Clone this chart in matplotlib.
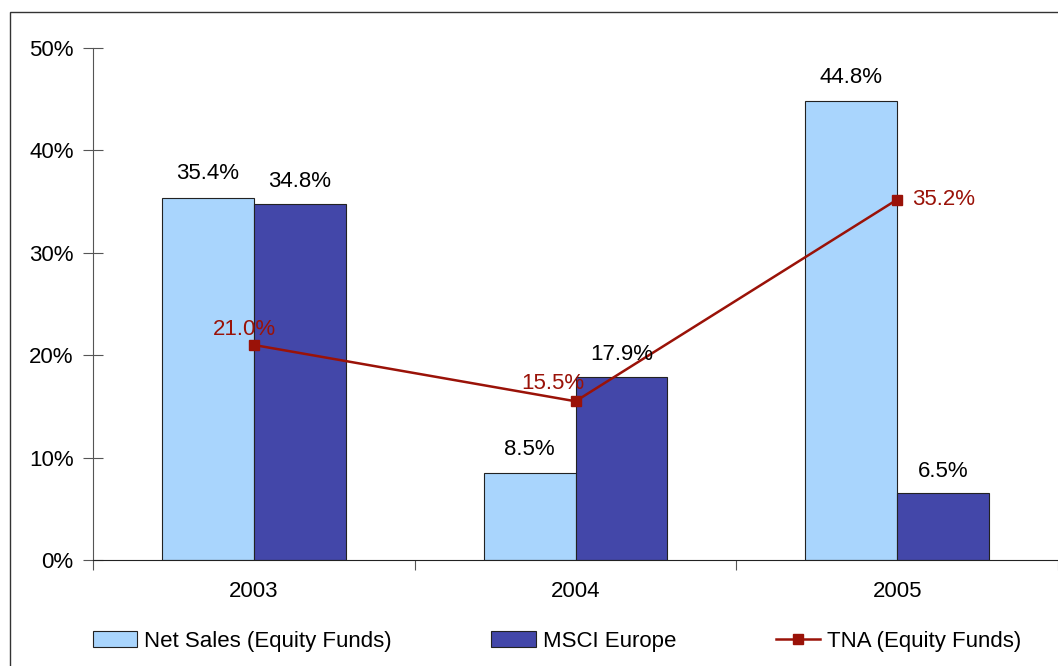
import numpy as np
import matplotlib.pyplot as plt
from matplotlib.patches import Rectangle
from matplotlib.lines import Line2D

plt.rcParams['font.family'] = ['Liberation Sans', 'DejaVu Sans']

years = ['2003', '2004', '2005']
net_sales = [35.4, 8.5, 44.8]
msci = [34.8, 17.9, 6.5]
tna = [21.0, 15.5, 35.2]

light = '#A9D5FD'
dark = '#4347A9'
red = '#9A1208'
fs = 16

fig = plt.figure(figsize=(10.58, 6.66), dpi=100)
ax = fig.add_axes([93 / 1058, 1 - 560 / 666, 1 - 93 / 1058, (560 - 48) / 666])

x = np.arange(len(years)) + 0.5
w = 0.286
ax.bar(x - w / 2, net_sales, w, color=light, edgecolor='#222222', linewidth=0.8, zorder=2)
ax.bar(x + w / 2, msci, w, color=dark, edgecolor='#222222', linewidth=0.8, zorder=2)
ax.plot(x, tna, color=red, linewidth=1.8, marker='s', markersize=6.5, zorder=3)

for xi, v in zip(x, net_sales):
    ax.text(xi - w / 2, v + 1.3, f'{v:.1f}%', ha='center', va='bottom', fontsize=fs)
for xi, v in zip(x, msci):
    ax.text(xi + w / 2, v + 1.1, f'{v:.1f}%', ha='center', va='bottom', fontsize=fs)
# TNA labels
ax.text(x[0] - 0.03, tna[0] + 1.5, f'{tna[0]:.1f}%', ha='center', va='center', fontsize=fs, color=red)
ax.text(x[1] - 0.07, tna[1] + 1.7, f'{tna[1]:.1f}%', ha='center', va='center', fontsize=fs, color=red)
ax.text(x[2] + 0.045, tna[2], f'{tna[2]:.1f}%', ha='left', va='center', fontsize=fs, color=red)

ax.set_xlim(0, 3)
ax.set_ylim(0, 50)
ax.set_yticks(np.arange(0, 51, 10))
ax.set_yticklabels([f'{t}%' for t in range(0, 51, 10)], fontsize=fs)
ax.set_xticks([0, 1, 2, 3])
ax.set_xticklabels([])
ax.set_xticks(x, minor=True)
ax.set_xticklabels(years, minor=True, fontsize=fs)
ax.tick_params(axis='x', which='minor', length=0, pad=15)
ax.tick_params(axis='x', which='major', direction='out', length=7, color='#555555')
ax.tick_params(axis='y', direction='inout', length=14, color='#555555', pad=7)
for s in ['top', 'right']:
    ax.spines[s].set_visible(False)
ax.spines['left'].set_color('#555555')
ax.spines['bottom'].set_color('#222222')

# outer frame
fig.patches.append(Rectangle((10 / 1058, -0.01), 1.0, 1 - 12 / 666 + 0.01, transform=fig.transFigure,
                             fill=False, edgecolor='#333333', linewidth=1.0))

handles = [
    Rectangle((0, 0), 1, 1, facecolor=light, edgecolor='#222222', linewidth=0.8),
    Rectangle((0, 0), 1, 1, facecolor=dark, edgecolor='#222222', linewidth=0.8),
    Line2D([0], [0], color=red, linewidth=1.8, marker='s', markersize=6.5),
]
labels = ['Net Sales (Equity Funds)', 'MSCI Europe', 'TNA (Equity Funds)']
fig.legend(handles, labels, loc='center', bbox_to_anchor=(557 / 1058, 1 - 641 / 666), ncol=3,
           frameon=False, fontsize=fs, columnspacing=4.5, handlelength=2.0, handletextpad=0.3,
           handleheight=0.7)

fig.savefig('out.png', dpi=100)
